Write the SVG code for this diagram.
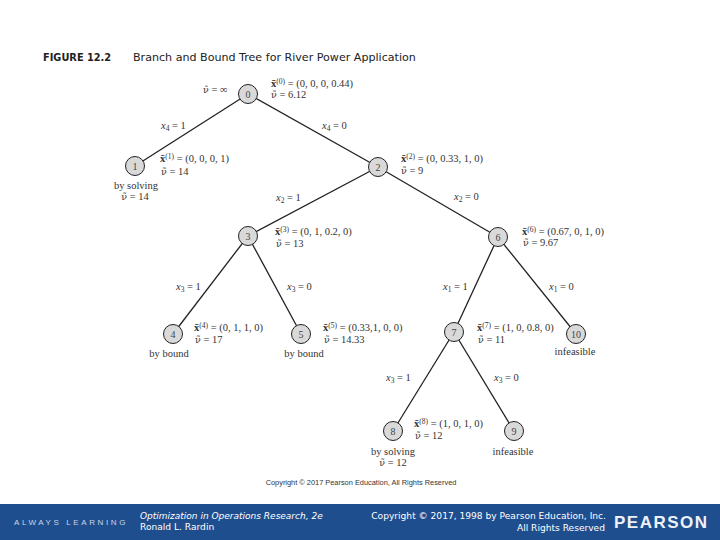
<svg xmlns="http://www.w3.org/2000/svg" width="720" height="540" viewBox="0 0 720 540">
<style>
.n{fill:#d9d9d9;stroke:#222;stroke-width:1}
.nt{font:10px "Liberation Serif",serif;fill:#444;text-anchor:middle}
.e{stroke:#222;stroke-width:1.3;fill:none}
.l{font:10.5px "Liberation Serif",serif;fill:#333}
.m{text-anchor:middle}
.b{font-weight:bold}
.s{font-size:7.5px}
.i{font-style:italic}
.v{font-family:"DejaVu Serif",serif;font-size:9.5px}
.t{font:11.1px "DejaVu Sans",sans-serif;fill:#222}
.tb{font-weight:bold;font-size:9.8px}
.f{font:9.1px "DejaVu Sans",sans-serif;fill:#fff}
.fi{font-style:italic;font-size:9px}
</style>
<rect width="720" height="540" fill="#fff"/>
<text class="t tb" x="43" y="61">FIGURE 12.2</text>
<text class="t" x="133" y="61">Branch and Bound Tree for River Power Application</text>
<g id="connectors">
<line class="e" x1="248" y1="94" x2="135" y2="166"/>
<line class="e" x1="248" y1="94" x2="378" y2="167"/>
<line class="e" x1="378" y1="167" x2="248" y2="236"/>
<line class="e" x1="378" y1="167" x2="498" y2="237"/>
<line class="e" x1="248" y1="236" x2="173" y2="334"/>
<line class="e" x1="248" y1="236" x2="301" y2="334"/>
<line class="e" x1="498" y1="237" x2="454" y2="332"/>
<line class="e" x1="498" y1="237" x2="576" y2="334"/>
<line class="e" x1="454" y1="332" x2="393" y2="431"/>
<line class="e" x1="454" y1="332" x2="514" y2="431"/>
</g>
<g id="node0"><circle class="n" cx="248" cy="94" r="9.5"/><text class="nt" x="248" y="97.500">0</text></g>
<g id="node1"><circle class="n" cx="135" cy="166" r="9.500"/><text class="nt" x="135" y="169.500">1</text></g>
<g id="node2"><circle class="n" cx="378" cy="167" r="9.500"/><text class="nt" x="378" y="170.500">2</text></g>
<g id="node3"><circle class="n" cx="248" cy="236" r="9.500"/><text class="nt" x="248" y="239.500">3</text></g>
<g id="node4"><circle class="n" cx="173" cy="334" r="9.500"/><text class="nt" x="173" y="337.500">4</text></g>
<g id="node5"><circle class="n" cx="301" cy="334" r="9.500"/><text class="nt" x="301" y="337.500">5</text></g>
<g id="node6"><circle class="n" cx="498" cy="237" r="9.500"/><text class="nt" x="498" y="240.500">6</text></g>
<g id="node7"><circle class="n" cx="454" cy="332" r="9.500"/><text class="nt" x="454" y="335.500">7</text></g>
<g id="node8"><circle class="n" cx="393" cy="431" r="9.500"/><text class="nt" x="393" y="434.500">8</text></g>
<g id="node9"><circle class="n" cx="514" cy="431" r="9.500"/><text class="nt" x="514" y="434.500">9</text></g>
<g id="node10"><circle class="n" cx="576" cy="334" r="9.500"/><text class="nt" x="576" y="337.500">10</text></g>
<g id="labels">
<text class="l" x="203" y="93"><tspan class="v">ν̂</tspan> = ∞</text>
<text class="l" x="271" y="87"><tspan class="b">x̄</tspan><tspan class="s" dy="-3">(0)</tspan><tspan dy="3"> = (0, 0, 0, 0.44)</tspan></text>
<text class="l" x="271" y="98"><tspan class="v">ν̃</tspan> = 6.12</text>
<text class="l" x="161" y="129"><tspan class="i">x</tspan><tspan class="s" dy="2">4</tspan><tspan dy="-2"> = 1</tspan></text>
<text class="l" x="322" y="129"><tspan class="i">x</tspan><tspan class="s" dy="2">4</tspan><tspan dy="-2"> = 0</tspan></text>
<text class="l" x="160" y="162"><tspan class="b">x̄</tspan><tspan class="s" dy="-3">(1)</tspan><tspan dy="3"> = (0, 0, 0, 1)</tspan></text>
<text class="l" x="161" y="175"><tspan class="v">ν̃</tspan> = 14</text>
<text class="l m" x="136" y="189">by solving</text>
<text class="l m" x="135" y="200"><tspan class="v">ν̃</tspan> = 14</text>
<text class="l" x="401" y="162"><tspan class="b">x̄</tspan><tspan class="s" dy="-3">(2)</tspan><tspan dy="3"> = (0, 0.33, 1, 0)</tspan></text>
<text class="l" x="401" y="174"><tspan class="v">ν̃</tspan> = 9</text>
<text class="l" x="276" y="201"><tspan class="i">x</tspan><tspan class="s" dy="2">2</tspan><tspan dy="-2"> = 1</tspan></text>
<text class="l" x="454" y="200"><tspan class="i">x</tspan><tspan class="s" dy="2">2</tspan><tspan dy="-2"> = 0</tspan></text>
<text class="l" x="275" y="235"><tspan class="b">x̄</tspan><tspan class="s" dy="-3">(3)</tspan><tspan dy="3"> = (0, 1, 0.2, 0)</tspan></text>
<text class="l" x="276" y="247"><tspan class="v">ν̃</tspan> = 13</text>
<text class="l" x="522" y="235"><tspan class="b">x̄</tspan><tspan class="s" dy="-3">(6)</tspan><tspan dy="3"> = (0.67, 0, 1, 0)</tspan></text>
<text class="l" x="523" y="246"><tspan class="v">ν̃</tspan> = 9.67</text>
<text class="l" x="176" y="290"><tspan class="i">x</tspan><tspan class="s" dy="2">3</tspan><tspan dy="-2"> = 1</tspan></text>
<text class="l" x="287" y="290"><tspan class="i">x</tspan><tspan class="s" dy="2">3</tspan><tspan dy="-2"> = 0</tspan></text>
<text class="l" x="443" y="290"><tspan class="i">x</tspan><tspan class="s" dy="2">1</tspan><tspan dy="-2"> = 1</tspan></text>
<text class="l" x="549" y="290"><tspan class="i">x</tspan><tspan class="s" dy="2">1</tspan><tspan dy="-2"> = 0</tspan></text>
<text class="l" x="194" y="331"><tspan class="b">x̄</tspan><tspan class="s" dy="-3">(4)</tspan><tspan dy="3"> = (0, 1, 1, 0)</tspan></text>
<text class="l" x="195" y="343"><tspan class="v">ν̃</tspan> = 17</text>
<text class="l m" x="169" y="357">by bound</text>
<text class="l" x="323" y="331"><tspan class="b">x̄</tspan><tspan class="s" dy="-3">(5)</tspan><tspan dy="3"> = (0.33,1, 0, 0)</tspan></text>
<text class="l" x="324" y="343"><tspan class="v">ν̃</tspan> = 14.33</text>
<text class="l m" x="304" y="357">by bound</text>
<text class="l" x="477" y="331"><tspan class="b">x̄</tspan><tspan class="s" dy="-3">(7)</tspan><tspan dy="3"> = (1, 0, 0.8, 0)</tspan></text>
<text class="l" x="478" y="343"><tspan class="v">ν̃</tspan> = 11</text>
<text class="l m" x="575" y="355">infeasible</text>
<text class="l" x="386" y="381"><tspan class="i">x</tspan><tspan class="s" dy="2">3</tspan><tspan dy="-2"> = 1</tspan></text>
<text class="l" x="494" y="381"><tspan class="i">x</tspan><tspan class="s" dy="2">3</tspan><tspan dy="-2"> = 0</tspan></text>
<text class="l" x="414" y="427"><tspan class="b">x̄</tspan><tspan class="s" dy="-3">(8)</tspan><tspan dy="3"> = (1, 0, 1, 0)</tspan></text>
<text class="l" x="415" y="439"><tspan class="v">ν̃</tspan> = 12</text>
<text class="l m" x="393" y="455">by solving</text>
<text class="l m" x="393" y="466"><tspan class="v">ν̃</tspan> = 12</text>
<text class="l m" x="513" y="455">infeasible</text>
</g>
<text x="361" y="485" font-family="'Liberation Sans',sans-serif" font-size="7.4" fill="#333" text-anchor="middle">Copyright © 2017 Pearson Education, All Rights Reserved</text>
<rect id="footer" x="0" y="504" width="720" height="36" fill="#1f4e8f"/>
<text x="14" y="525" font-family="'Liberation Sans',sans-serif" font-size="8" letter-spacing="2.6" fill="#c9d6e8">ALWAYS LEARNING</text>
<text class="f fi" x="140" y="519">Optimization in Operations Research, 2e</text>
<text class="f" x="140" y="530">Ronald L. Rardin</text>
<text class="f" x="606" y="519" text-anchor="end">Copyright © 2017, 1998 by Pearson Education, Inc.</text>
<text class="f" x="605" y="531" text-anchor="end">All Rights Reserved</text>
<text x="614" y="528" font-family="'Liberation Sans',sans-serif" font-weight="bold" font-size="17" letter-spacing="1.5" fill="#eef2f8">PEARSON</text>
</svg>
